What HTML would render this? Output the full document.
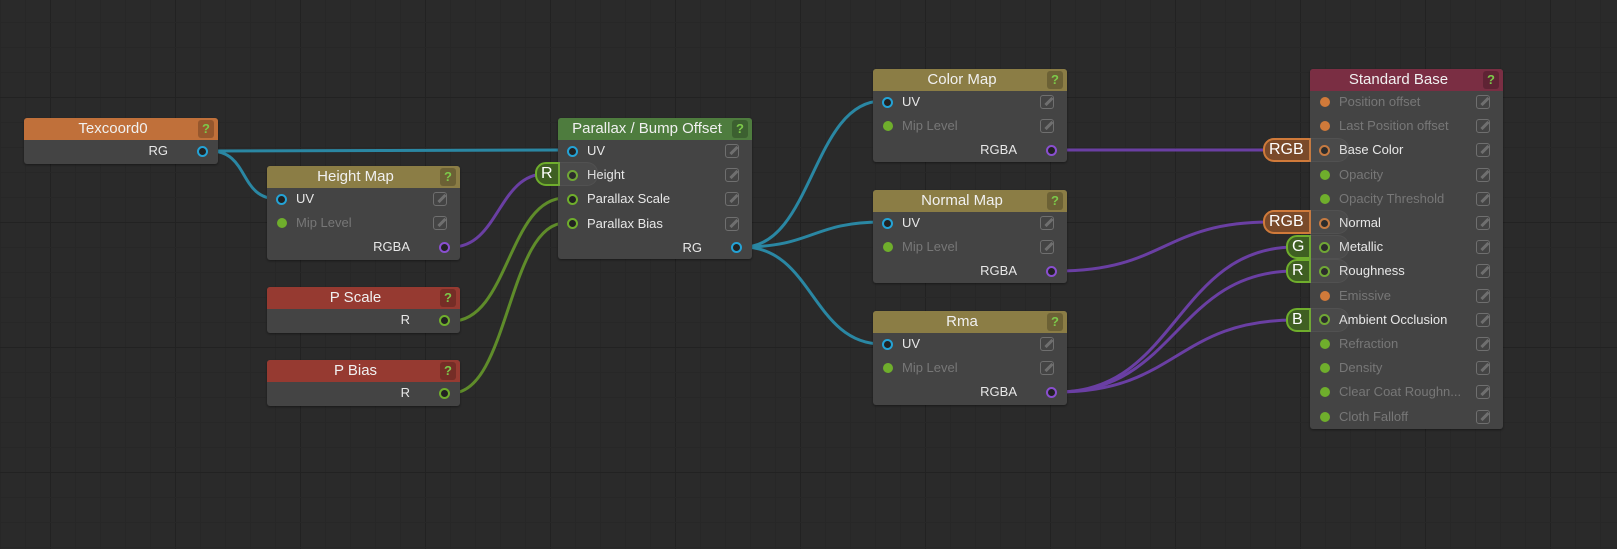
<!DOCTYPE html>
<html><head><meta charset="utf-8">
<style>
html,body{margin:0;padding:0;width:1617px;height:549px;overflow:hidden;background:#2a2a2a;font-family:"Liberation Sans",sans-serif;}
#bg{position:absolute;left:0;top:0}
.node{position:absolute;background:#444;border-radius:3px;box-shadow:0 1px 2px rgba(0,0,0,.4)}
.hdr{position:absolute;left:0;right:0;top:0;height:22px;border-radius:3px 3px 0 0;color:#f0f0f0;font-size:15px;line-height:22px;text-align:center;}
.hdr span{position:relative;left:-8px}
.q{position:absolute;right:4px;top:2px;width:16px;height:18px;background:rgba(0,0,0,.22);border-radius:3px;color:#7cc84a;font-size:13px;font-weight:bold;line-height:18px;text-align:center}
.lbl{position:absolute;font-size:13px;color:#e8e8e8;line-height:16px}
.dim{color:#777}
.sock{position:absolute;width:7px;height:7px;border-radius:50%;border:2px solid}
.dot{position:absolute;width:10px;height:10px;border-radius:50%}
.edit{position:absolute;width:12px;height:12px;border:1.5px solid #6f6f6f;border-radius:3px}
.edit:after{content:"";position:absolute;left:3px;top:4px;width:10px;height:3px;background:#6f6f6f;transform:rotate(-45deg)}
.pill{position:absolute;height:20px;border:2px solid;border-radius:11px 0 0 11px;color:#fff;font-size:16px;line-height:20px;padding-left:4px}
#wires{position:absolute;left:0;top:0}
</style></head><body>
<svg id="bg" width="1617" height="549"></svg>
<svg id="wires" width="1617" height="549" style="z-index:1"></svg>
<div id="nodes" style="position:absolute;left:0;top:0;z-index:2"></div>
<div id="pills" style="position:absolute;left:0;top:0;z-index:3"></div>
<script>
var bg=document.getElementById('bg'),s='';
for(var x=0;x<1617;x+=25){var maj=((x-50)%125===0);s+='<line x1="'+(x+.5)+'" y1="0" x2="'+(x+.5)+'" y2="549" stroke="'+(maj?'#222222':'#272727')+'" stroke-width="1"/>';}
for(var y=22;y<549;y+=25){var maj=((y-97)%125===0);s+='<line x1="0" y1="'+(y+.5)+'" x2="1617" y2="'+(y+.5)+'" stroke="'+(maj?'#222222':'#272727')+'" stroke-width="1"/>';}
bg.innerHTML=s;
var C={blue:'#24a3d6',green:'#6fae2c',purple:'#8a4fd0',orange:'#d07a3a'};
var N=document.getElementById('nodes'),h='';
function node(x,y,w,hh,col,title,rows){
 h+='<div class="node" style="left:'+x+'px;top:'+y+'px;width:'+w+'px;height:'+hh+'px"><div class="hdr" style="background:'+col+'"><span>'+title+'</span><div class="q">?</div></div>';
 rows.forEach(function(r,i){var cy=33+i*24.2;
  if(r.out){h+='<div class="lbl" style="right:50px;top:'+(cy-8)+'px">'+r.t+'</div><div class="sock" style="right:10px;top:'+(cy-5.5)+'px;border-color:'+C[r.c]+';background:#222"></div>';}
  else{
   if(r.on) h+='<div class="sock" style="left:9px;top:'+(cy-5.5)+'px;border-color:'+C[r.c]+';background:#222"></div>';
   else h+='<div class="dot" style="left:10px;top:'+(cy-5)+'px;background:'+C[r.c]+'"></div>';
   h+='<div class="lbl'+(r.on?'':' dim')+'" style="left:29px;top:'+(cy-8)+'px">'+r.t+'</div>';
   if(r.e!==false) h+='<div class="edit" style="right:13px;top:'+(cy-7)+'px"></div>';
  }});
 h+='</div>';
}
function I(t,c,on){return{t:t,c:c,on:on}}
function O(t,c){return{t:t,c:c,out:1}}
node(24,118,194,46,'#c0703a','Texcoord0',[O('RG','blue')]);
node(267,166,193,94,'#8b7d45','Height Map',[I('UV','blue',1),I('Mip Level','green',0),O('RGBA','purple')]);
node(267,287,193,46,'#963a31','P Scale',[O('R','green')]);
node(267,360,193,46,'#963a31','P Bias',[O('R','green')]);
node(558,118,194,141,'#4e7c3e','Parallax / Bump Offset',[I('UV','blue',1),I('Height','green',1),I('Parallax Scale','green',1),I('Parallax Bias','green',1),O('RG','blue')]);
node(873,69,194,93,'#8b7d45','Color Map',[I('UV','blue',1),I('Mip Level','green',0),O('RGBA','purple')]);
node(873,190,194,93,'#8b7d45','Normal Map',[I('UV','blue',1),I('Mip Level','green',0),O('RGBA','purple')]);
node(873,311,194,94,'#8b7d45','Rma',[I('UV','blue',1),I('Mip Level','green',0),O('RGBA','purple')]);
var sb=[['Position offset','orange',0],['Last Position offset','orange',0],['Base Color','orange',1],['Opacity','green',0],['Opacity Threshold','green',0],['Normal','orange',1],['Metallic','green',1],['Roughness','green',1],['Emissive','orange',0],['Ambient Occlusion','green',1],['Refraction','green',0],['Density','green',0],['Clear Coat Roughn...','green',0],['Cloth Falloff','green',0]];
node(1310,69,193,360,'#7a2e43','Standard Base',sb.map(function(a){return I(a[0],a[1],a[2])}));
N.innerHTML=h;
function bz(x1,y1,x2,y2,c){var d=Math.max(40,(x2-x1)*0.5);return '<path d="M'+x1+' '+y1+' C'+(x1+d)+' '+y1+','+(x2-d)+' '+y2+','+x2+' '+y2+'" fill="none" stroke="'+c+'" stroke-width="3"/>';}
var T='#2a87a3',P='#6a3fa3',G='#5f8c2a',w='';
w+=bz(210,151,565,150,T);w+=bz(210,151,278,199,T);
w+=bz(452,247,545,174,P);w+=bz(452,321,565,198,G);w+=bz(452,393,565,223,G);
w+=bz(743,247,882,101,T);w+=bz(743,247,882,222,T);w+=bz(743,247,882,344,T);
w+=bz(1058,150,1270,150,P);w+=bz(1058,271,1270,222,P);
w+=bz(1058,392,1295,247,P);w+=bz(1058,392,1295,271,P);w+=bz(1058,392,1295,320,P);
document.getElementById('wires').innerHTML=w;
var p='';
function pill(x,y,w,t,bc,fc){p+='<div class="pill" style="left:'+x+'px;top:'+(y-12)+'px;width:'+w+'px;border-color:'+bc+';background:'+fc+'">'+t+'</div>'+'<div style="position:absolute;left:'+(x+w+6)+'px;top:'+(y-12)+'px;width:40px;height:24px;border-radius:0 11px 11px 0;background:rgba(120,120,120,.12);border:1px solid rgba(120,120,120,.15);border-left:none;box-sizing:border-box"></div>';}
pill(535,174,17,'R','#6fae2c','#3f5f22');
pill(1263,150,40,'RGB','#d07a3a','#7a4a2a');
pill(1263,222,40,'RGB','#d07a3a','#7a4a2a');
pill(1286,247,17,'G','#6fae2c','#3f5f22');
pill(1286,271,17,'R','#6fae2c','#3f5f22');
pill(1286,320,17,'B','#6fae2c','#3f5f22');
document.getElementById('pills').innerHTML=p;
</script>
</body></html>
